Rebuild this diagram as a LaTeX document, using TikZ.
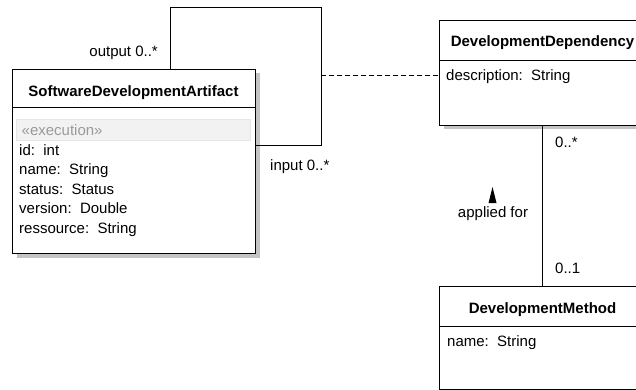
\documentclass[tikz,border=0pt]{standalone}
\usepackage{fontspec}
\setmainfont{Liberation Sans}
\usetikzlibrary{shadows}
\definecolor{shadowgray}{HTML}{C4C4C4}
\definecolor{stereobg}{HTML}{F2F2F2}
\definecolor{stereoline}{HTML}{E6E6E6}
\definecolor{stereotext}{HTML}{9A9A9A}
\tikzset{
  classbox/.style={draw=black, line width=1pt, fill=white, anchor=north west,
    inner sep=0pt, drop shadow={shadow xshift=4pt, shadow yshift=-4pt,
    fill=shadowgray, opacity=1}},
  plainbox/.style={draw=black, line width=1pt, fill=white, anchor=north west, inner sep=0pt},
  sep/.style={draw=black, line width=1pt},
  edge/.style={draw=black, line width=1pt},
  attr/.style={font=\fontsize{15}{18}\selectfont, inner sep=0pt, anchor=base west},
  title/.style={font=\fontsize{15}{18}\selectfont\bfseries, inner sep=0pt, anchor=base},
  lbl/.style={font=\fontsize{15}{18}\selectfont, inner sep=0pt},
}
\begin{document}
\begin{tikzpicture}[x=1pt, y=-1pt]
\useasboundingbox (0,0) rectangle (636,390);
\clip (0,0) rectangle (636,390);

% --- SoftwareDevelopmentArtifact ---
\node[classbox, minimum width=243pt, minimum height=184pt] (sda) at (12,69) {};
\draw[sep] (sda.west |- 0,108) -- (sda.east |- 0,108);
\node[title] (sdaname) at (133.5,97) {SoftwareDevelopmentArtifact};
\node[fill=stereobg, draw=stereoline, line width=0.5pt, anchor=north west,
      minimum width=234pt, minimum height=21pt, inner sep=0pt] (stband) at (16,119) {};
\node[attr, text=stereotext] (stereo) at (21.5,135.5) {«execution»};
\node[attr] (a1) at (19,155) {id:\ \ int};
\node[attr] (a2) at (19,174.5) {name:\ \ String};
\node[attr] (a3) at (19,194) {status:\ \ Status};
\node[attr] (a4) at (19,213.5) {version:\ \ Double};
\node[attr] (a5) at (19,233) {ressource:\ \ String};

% --- DevelopmentDependency ---
\node[classbox, minimum width=206pt, minimum height=105pt] (dep) at (439,20) {};
\draw[sep] (dep.west |- 0,61) -- (dep.east |- 0,61);
\node[title] (depname) at (542.5,47) {DevelopmentDependency};
\node[attr] (d1) at (446,81) {description:\ \ String};

% --- DevelopmentMethod ---
\node[plainbox, minimum width=206pt, minimum height=102.5pt] (meth) at (439,286) {};
\draw[sep] (meth.west |- 0,326) -- (meth.east |- 0,326);
\node[title] (methname) at (542.5,313) {DevelopmentMethod};
\node[attr] (m1) at (447,346) {name:\ \ String};

% --- reflexive association on the artifact ---
\coordinate (loopA) at (170,8);
\coordinate (loopB) at (321,8);
\coordinate (loopC) at (321,146);
\draw[edge] (loopA |- sda.north) -- (loopA) -- (loopB) -- (loopC) -- (loopC -| sda.east);
\node[lbl, anchor=base east] (outlbl) at (158,57) {output 0..*};
\node[lbl, anchor=base west] (inlbl) at (270,171) {input 0..*};

% --- association class link ---
\coordinate (assocMid) at (321,76);
\draw[black, line width=1pt, dash pattern=on 5pt off 3pt] (assocMid) -- (assocMid -| dep.west);

% --- applied for association ---
\draw[edge] (dep.south -| 542,0) -- (meth.north -| 542,0);
\node[lbl, anchor=base west] (m0) at (555,147) {0..*};
\node[lbl, anchor=base west] (m1b) at (555,273) {0..1};
\node[lbl, anchor=base] (applied) at (493,217) {applied for};
% reading-direction triangle
\fill[black] (492.5,187) -- (496.5,203) -- (488.5,203) -- cycle;
\end{tikzpicture}
\end{document}
